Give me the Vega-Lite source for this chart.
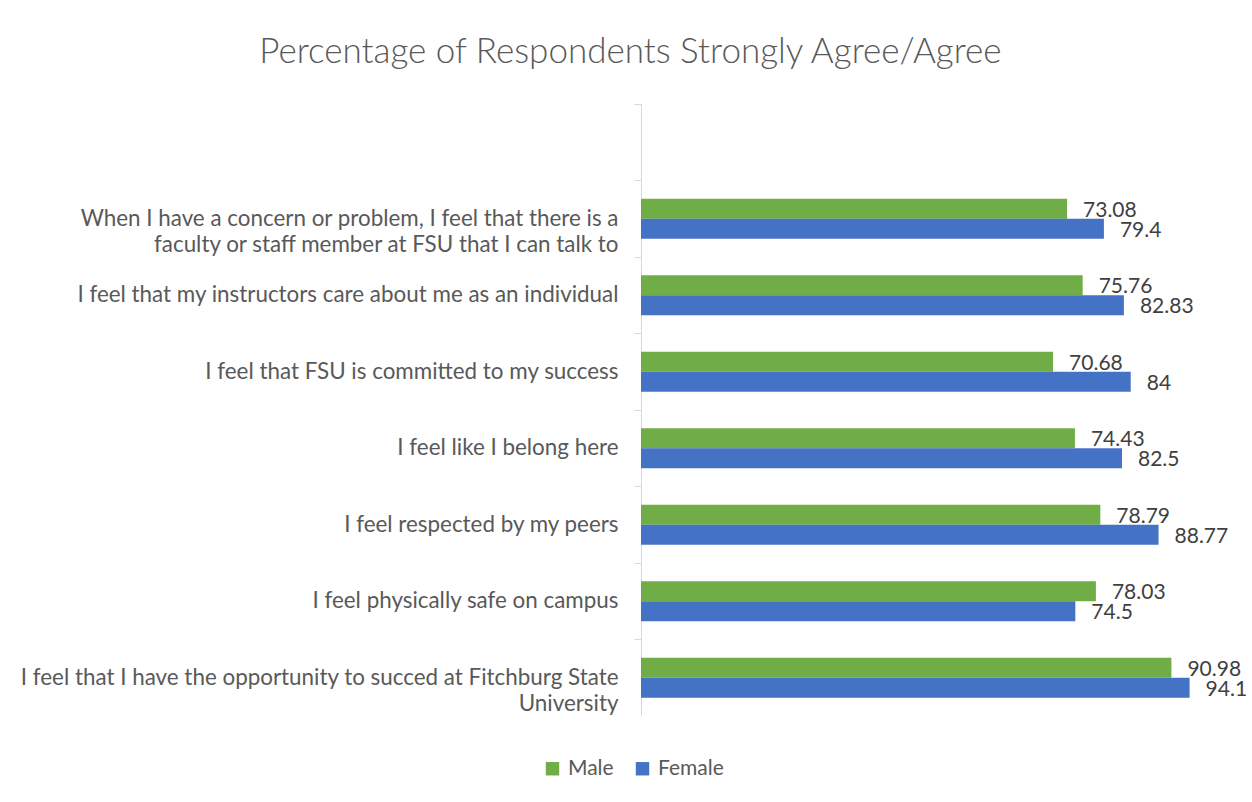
{
  "$schema": "https://vega.github.io/schema/vega-lite/v6.json",
  "autosize": {"type": "none"},
  "width": 583,
  "height": 612,
  "padding": {"left": 641, "top": 104, "right": 28, "bottom": 86},
  "background": "white",
  "title": {
    "text": "Percentage of Respondents Strongly Agree/Agree",
    "font": "Lato",
    "fontSize": 35,
    "fontWeight": 300,
    "color": "#595959",
    "anchor": "middle",
    "frame": "bounds",
    "offset": 23,
    "dx": -3
  },
  "data": {
    "values": [
      {"item": "When I have a concern or problem, I feel that there is a faculty or staff member at FSU that I can talk to", "gender": "Male", "pct": 73.08},
      {"item": "When I have a concern or problem, I feel that there is a faculty or staff member at FSU that I can talk to", "gender": "Female", "pct": 79.4},
      {"item": "I feel that my instructors care about me as an individual", "gender": "Male", "pct": 75.76},
      {"item": "I feel that my instructors care about me as an individual", "gender": "Female", "pct": 82.83},
      {"item": "I feel that FSU is committed to my success", "gender": "Male", "pct": 70.68},
      {"item": "I feel that FSU is committed to my success", "gender": "Female", "pct": 84},
      {"item": "I feel like I belong here", "gender": "Male", "pct": 74.43},
      {"item": "I feel like I belong here", "gender": "Female", "pct": 82.5},
      {"item": "I feel respected by my peers", "gender": "Male", "pct": 78.79},
      {"item": "I feel respected by my peers", "gender": "Female", "pct": 88.77},
      {"item": "I feel physically safe on campus", "gender": "Male", "pct": 78.03},
      {"item": "I feel physically safe on campus", "gender": "Female", "pct": 74.5},
      {"item": "I feel that I have the opportunity to succed at Fitchburg State University", "gender": "Male", "pct": 90.98},
      {"item": "I feel that I have the opportunity to succed at Fitchburg State University", "gender": "Female", "pct": 94.1}
    ]
  },
  "encoding": {
    "y": {
      "field": "item",
      "type": "nominal",
      "scale": {
        "domain": [
          " ",
          "When I have a concern or problem, I feel that there is a faculty or staff member at FSU that I can talk to",
          "I feel that my instructors care about me as an individual",
          "I feel that FSU is committed to my success",
          "I feel like I belong here",
          "I feel respected by my peers",
          "I feel physically safe on campus",
          "I feel that I have the opportunity to succed at Fitchburg State University"
        ],
        "paddingInner": 0,
        "paddingOuter": 0
      },
      "axis": {
        "title": null,
        "bandPosition": 0,
        "tickExtra": true,
        "domainColor": "#d9d9d9",
        "domainWidth": 1,
        "tickColor": "#d9d9d9",
        "tickSize": 7,
        "labelPadding": 16,
        "labelFont": "Lato",
        "labelFontSize": 22.4,
        "labelColor": "#595959",
        "labelLimit": 700,
        "labelLineHeight": 26,
        "labelExpr": "datum.value == 'When I have a concern or problem, I feel that there is a faculty or staff member at FSU that I can talk to' ? ['When I have a concern or problem, I feel that there is a', 'faculty or staff member at FSU that I can talk to'] : datum.value == 'I feel that I have the opportunity to succed at Fitchburg State University' ? ['I feel that I have the opportunity to succed at Fitchburg State', 'University'] : datum.value"
      }
    },
    "yOffset": {
      "field": "gender",
      "type": "nominal",
      "sort": ["Male", "Female"],
      "scale": {"paddingInner": 0, "paddingOuter": 0.915}
    },
    "x": {
      "field": "pct",
      "type": "quantitative",
      "scale": {"domain": [0, 100], "nice": false},
      "axis": null
    }
  },
  "layer": [
    {
      "mark": {"type": "bar"},
      "encoding": {
        "color": {
          "field": "gender",
          "type": "nominal",
          "scale": {"domain": ["Male", "Female"], "range": ["#70AD47", "#4472C4"]},
          "legend": {
            "title": null,
            "orient": "none",
            "direction": "horizontal",
            "legendX": -99,
            "legendY": 654,
            "symbolType": "square",
            "symbolSize": 180,
            "symbolStrokeWidth": 0,
            "labelFont": "Lato",
            "labelFontSize": 21,
            "labelColor": "#595959",
            "columnPadding": 18,
            "labelOffset": 5
          }
        }
      }
    },
    {
      "mark": {"type": "text", "align": "left", "baseline": "middle", "dx": 16, "dy": 2, "font": "Lato", "fontSize": 21, "color": "#404040"},
      "encoding": {
        "text": {"field": "pct", "type": "quantitative"}
      }
    }
  ],
  "config": {
    "view": {"stroke": null},
    "legend": {"symbolOpacity": 1}
  }
}
